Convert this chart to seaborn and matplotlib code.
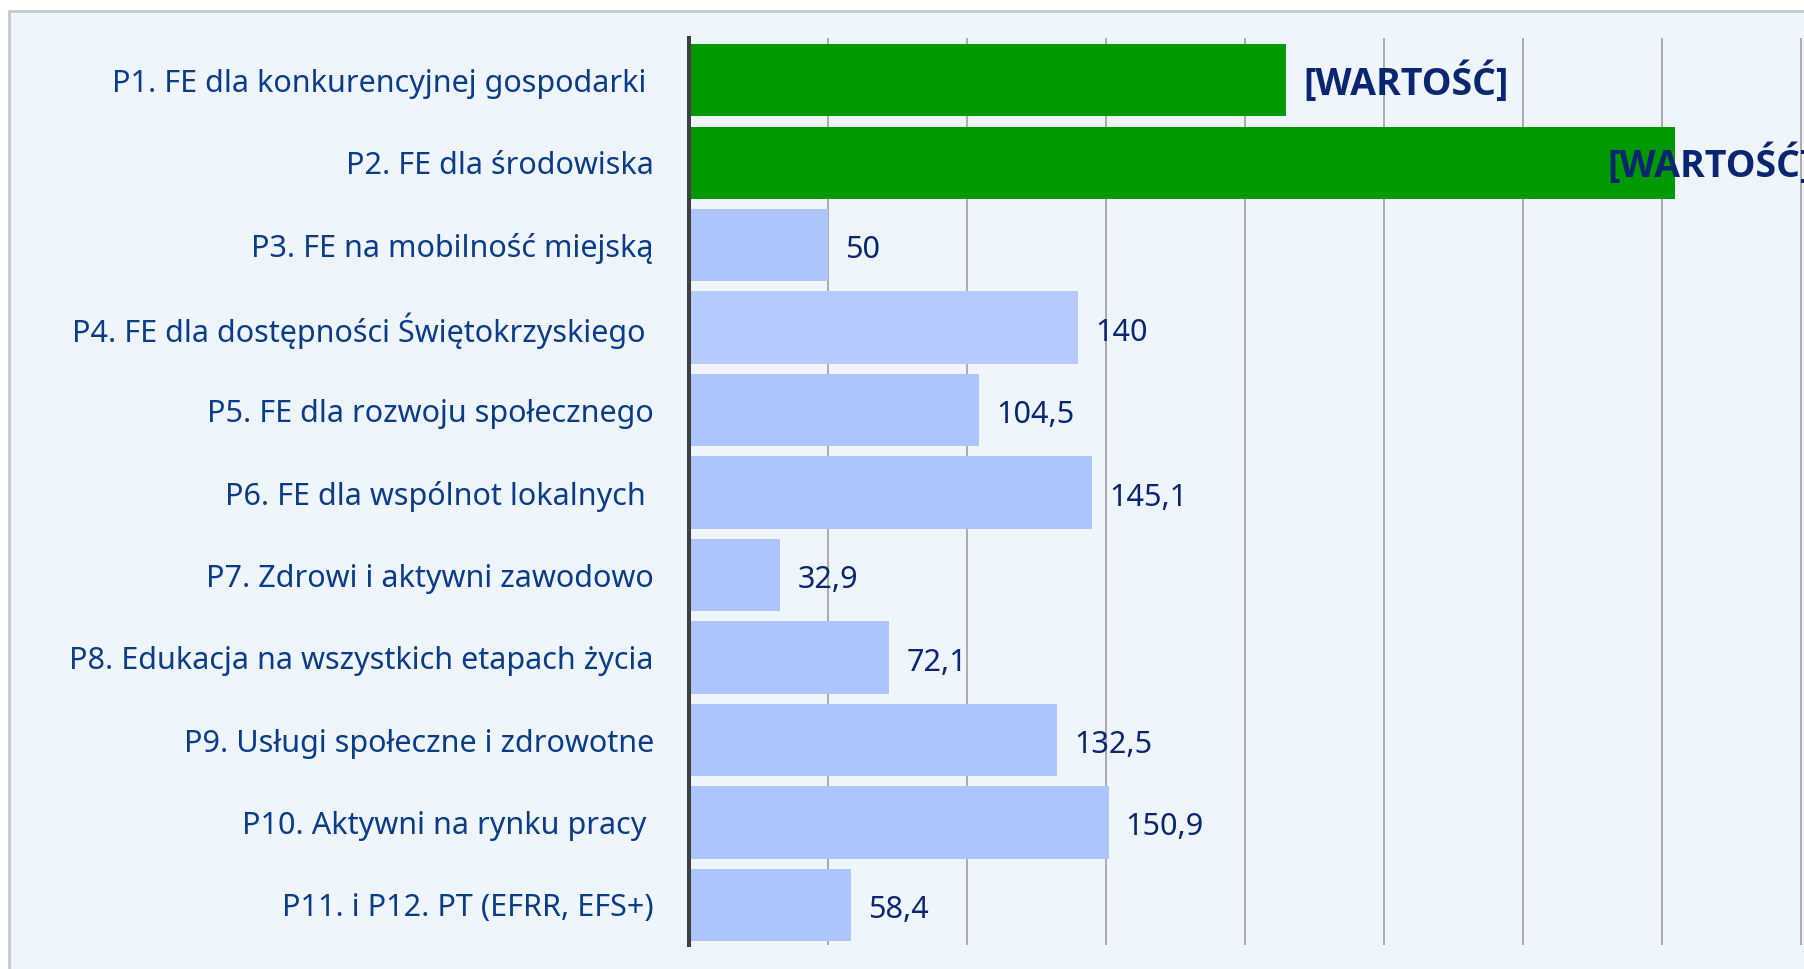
import numpy as np
import pandas as pd
import seaborn as sns
import matplotlib.pyplot as plt
from matplotlib.patches import Rectangle

categories = [
    'P1. FE dla konkurencyjnej gospodarki ',
    'P2. FE dla środowiska',
    'P3. FE na mobilność miejską',
    'P4. FE dla dostępności Świętokrzyskiego ',
    'P5. FE dla rozwoju społecznego',
    'P6. FE dla wspólnot lokalnych ',
    'P7. Zdrowi i aktywni zawodowo',
    'P8. Edukacja na wszystkich etapach życia',
    'P9. Usługi społeczne i zdrowotne',
    'P10. Aktywni na rynku pracy ',
    'P11. i P12. PT (EFRR, EFS+)',
]
values = [214.8, 354.5, 50, 140, 104.5, 145.1, 32.9, 72.1, 132.5, 150.9, 58.4]
value_labels = ['[WARTOŚĆ]', '[WARTOŚĆ]', '50', '140', '104,5', '145,1',
                '32,9', '72,1', '132,5', '150,9', '58,4']
bar_colors = ['#009900', '#009900', '#AEC4FC', '#B6CAFF', '#AEC4FC', '#AEC4FC',
              '#AEC4FC', '#AEC4FC', '#AEC4FC', '#AEC4FC', '#AEC4FC']

df = pd.DataFrame({'Program': categories, 'Value': values})

sns.set_style('white')
plt.rcParams['font.family'] = ['Noto Sans', 'DejaVu Sans']

bg = '#EEF5FC'
fig = plt.figure(figsize=(18.04, 9.69), dpi=100)
fig.patch.set_facecolor('white')
# chart frame (cut at right/bottom edge like the reference)
fig.patches.append(Rectangle((8.5 / 1804, -0.1), 1.2, 1 - 11 / 969 + 0.1,
                             transform=fig.transFigure, facecolor=bg,
                             edgecolor='#C8C8C8', linewidth=2, zorder=-5))

ax = fig.add_axes([688.7 / 1804, 1 - 945 / 969, 1 - 688.7 / 1804, 907 / 969])
ax.set_facecolor(bg)
sns.barplot(data=df, x='Value', y='Program', hue='Program', palette=bar_colors,
            legend=False, width=0.874, saturation=1, linewidth=0, ax=ax)

ax.set_xlim(0, 400.9)
ax.set_ylim(10.485, -0.51)
ax.set_xticks(np.arange(50, 401, 50))
ax.xaxis.grid(True, color='#A6A6A6', linewidth=1.3)
ax.set_axisbelow(True)
ax.tick_params(axis='x', length=0, labelbottom=False)
ax.tick_params(axis='y', length=0, pad=25, labelsize=22, labelcolor='#0A3C87')
for s in ['top', 'right', 'bottom']:
    ax.spines[s].set_visible(False)
ax.spines['left'].set_color('#404040')
ax.spines['left'].set_linewidth(2.9)
ax.set_xlabel('')
ax.set_ylabel('')

for i, (v, lab) in enumerate(zip(values, value_labels)):
    if lab.startswith('['):
        dx = 17 if i == 0 else -68
        ax.annotate(lab, (v, i), xytext=(dx, -3), textcoords='offset pixels',
                    ha='left', va='center', fontsize=27, fontweight='bold',
                    family=['Open Sans', 'DejaVu Sans'],
                    color='#0B2670', annotation_clip=False)
    else:
        ax.annotate(lab, (v, i), xytext=(17, -5), textcoords='offset pixels',
                    ha='left', va='center', fontsize=22, color='#0B2670')

fig.savefig('out.png', dpi=100, facecolor='white')
